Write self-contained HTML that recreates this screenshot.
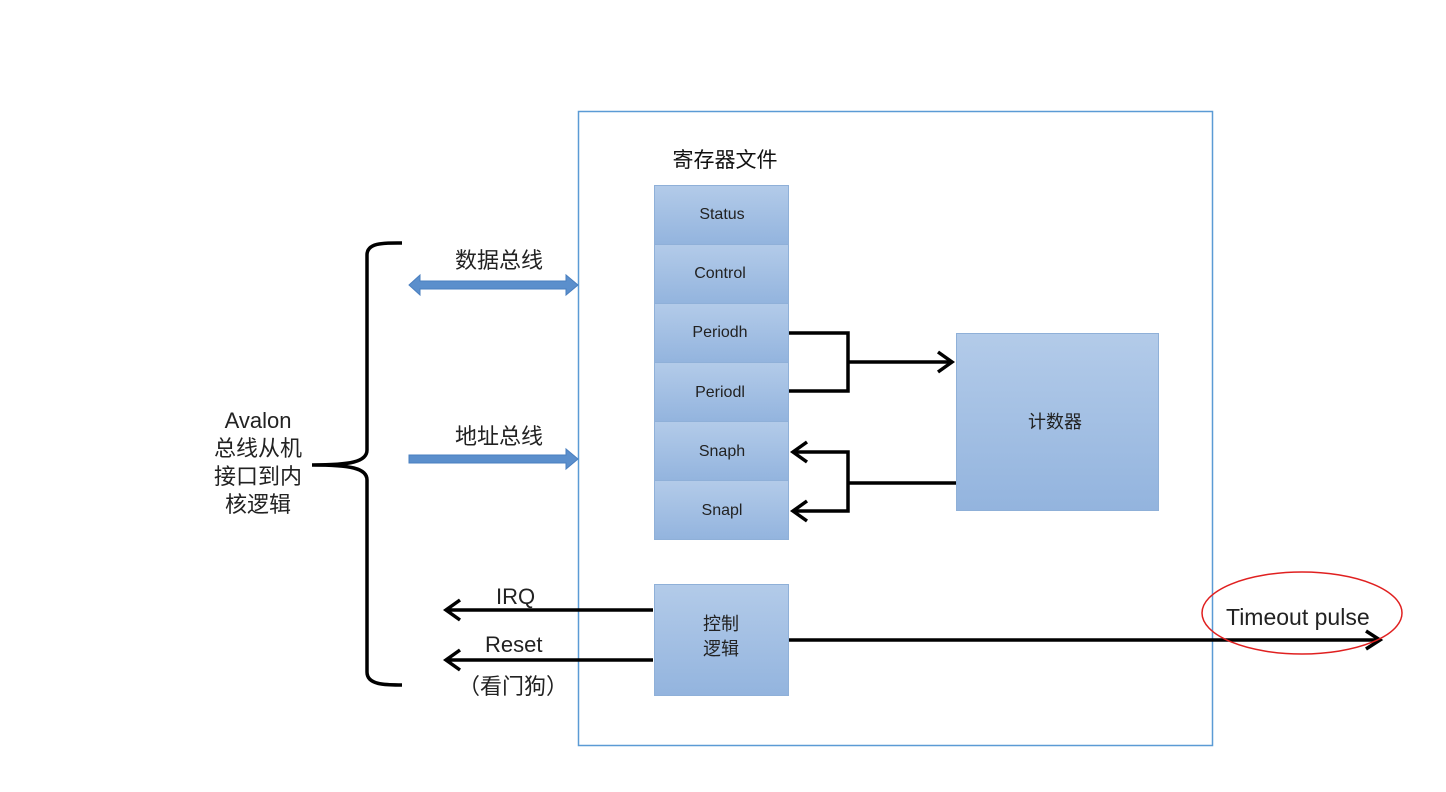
<!DOCTYPE html>
<html><head><meta charset="utf-8"><style>
body{margin:0;background:#fff;}
svg{display:block}
text{font-family:"Liberation Sans","Noto Sans CJK SC",sans-serif;}
</style></head><body>
<svg width="1446" height="792" viewBox="0 0 1446 792" xmlns="http://www.w3.org/2000/svg">
<defs>
<linearGradient id="g" x1="0" y1="0" x2="0" y2="1"><stop offset="0" stop-color="#b3cbe9"/><stop offset="1" stop-color="#93b4de"/></linearGradient>
</defs>
<rect width="1446" height="792" fill="#fff"/>
<rect x="578.5" y="111.5" width="634" height="634" fill="none" stroke="#5b9bd5" stroke-width="1.5"/>
<text x="725" y="167" font-size="21" text-anchor="middle" fill="#111">寄存器文件</text>
<g stroke="#8fb0d8" stroke-width="1">
<rect x="654.5" y="185.5" width="134" height="59" fill="url(#g)"/>
<rect x="654.5" y="244.5" width="134" height="59" fill="url(#g)"/>
<rect x="654.5" y="303.5" width="134" height="59" fill="url(#g)"/>
<rect x="654.5" y="362.5" width="134" height="59" fill="url(#g)"/>
<rect x="654.5" y="421.5" width="134" height="59" fill="url(#g)"/>
<rect x="654.5" y="480.5" width="134" height="59" fill="url(#g)"/>
<rect x="956.5" y="333.5" width="202" height="177" fill="url(#g)"/>
<rect x="654.5" y="584.5" width="134" height="111" fill="url(#g)"/>
</g>
<g font-size="16" fill="#222" text-anchor="middle">
<text x="722" y="219">Status</text>
<text x="720" y="278">Control</text>
<text x="720" y="337">Periodh</text>
<text x="720" y="397">Periodl</text>
<text x="722" y="456">Snaph</text>
<text x="722" y="515">Snapl</text>
<text x="1055" y="428" font-size="18">计数器</text>
<text x="721" y="630" font-size="18">控制</text>
<text x="721" y="655" font-size="18">逻辑</text>
</g>
<g fill="none" stroke="#000" stroke-width="3.5">
<path d="M789 333H848V391H789M848 362H952"/>
<path d="M938 352L952 362L938 372"/>
<path d="M956 483H848V452H793M848 483V511H793"/>
<path d="M807 442L793 452L807 462M807 501L793 511L807 521"/>
<path d="M653 610H446M460 600L446 610L460 620"/>
<path d="M653 660H446M460 650L446 660L460 670"/>
<path d="M789 640H1380M1366 631L1380 640L1366 649"/>
<path d="M402 243C385 243 367 242 367 255V450C367 462 350 465 312 465C350 465 367 468 367 480V672C367 685 385 685 402 685"/>
</g>
<path d="M409 285L420 275V281H566V275L578 285L566 295V289H420V295Z" fill="#5b8fcc" stroke="#4a7fbf"/>
<path d="M409 455H566V449L578 459L566 469V463H409Z" fill="#5b8fcc" stroke="#4a7fbf"/>
<g font-size="22" fill="#222">
<text x="455" y="268">数据总线</text>
<text x="455" y="444">地址总线</text>
<text x="496" y="604">IRQ</text>
<text x="485" y="652">Reset</text>
<text x="458" y="694">（看门狗）</text>
<text x="1226" y="625" font-size="23">Timeout pulse</text>
<g text-anchor="middle"><text x="258" y="428">Avalon</text><text x="258" y="456">总线从机</text><text x="258" y="484">接口到内</text><text x="258" y="512">核逻辑</text></g>
</g>
<ellipse cx="1302" cy="613" rx="100" ry="41" fill="none" stroke="#e02020" stroke-width="1.5"/>
</svg>
</body></html>
